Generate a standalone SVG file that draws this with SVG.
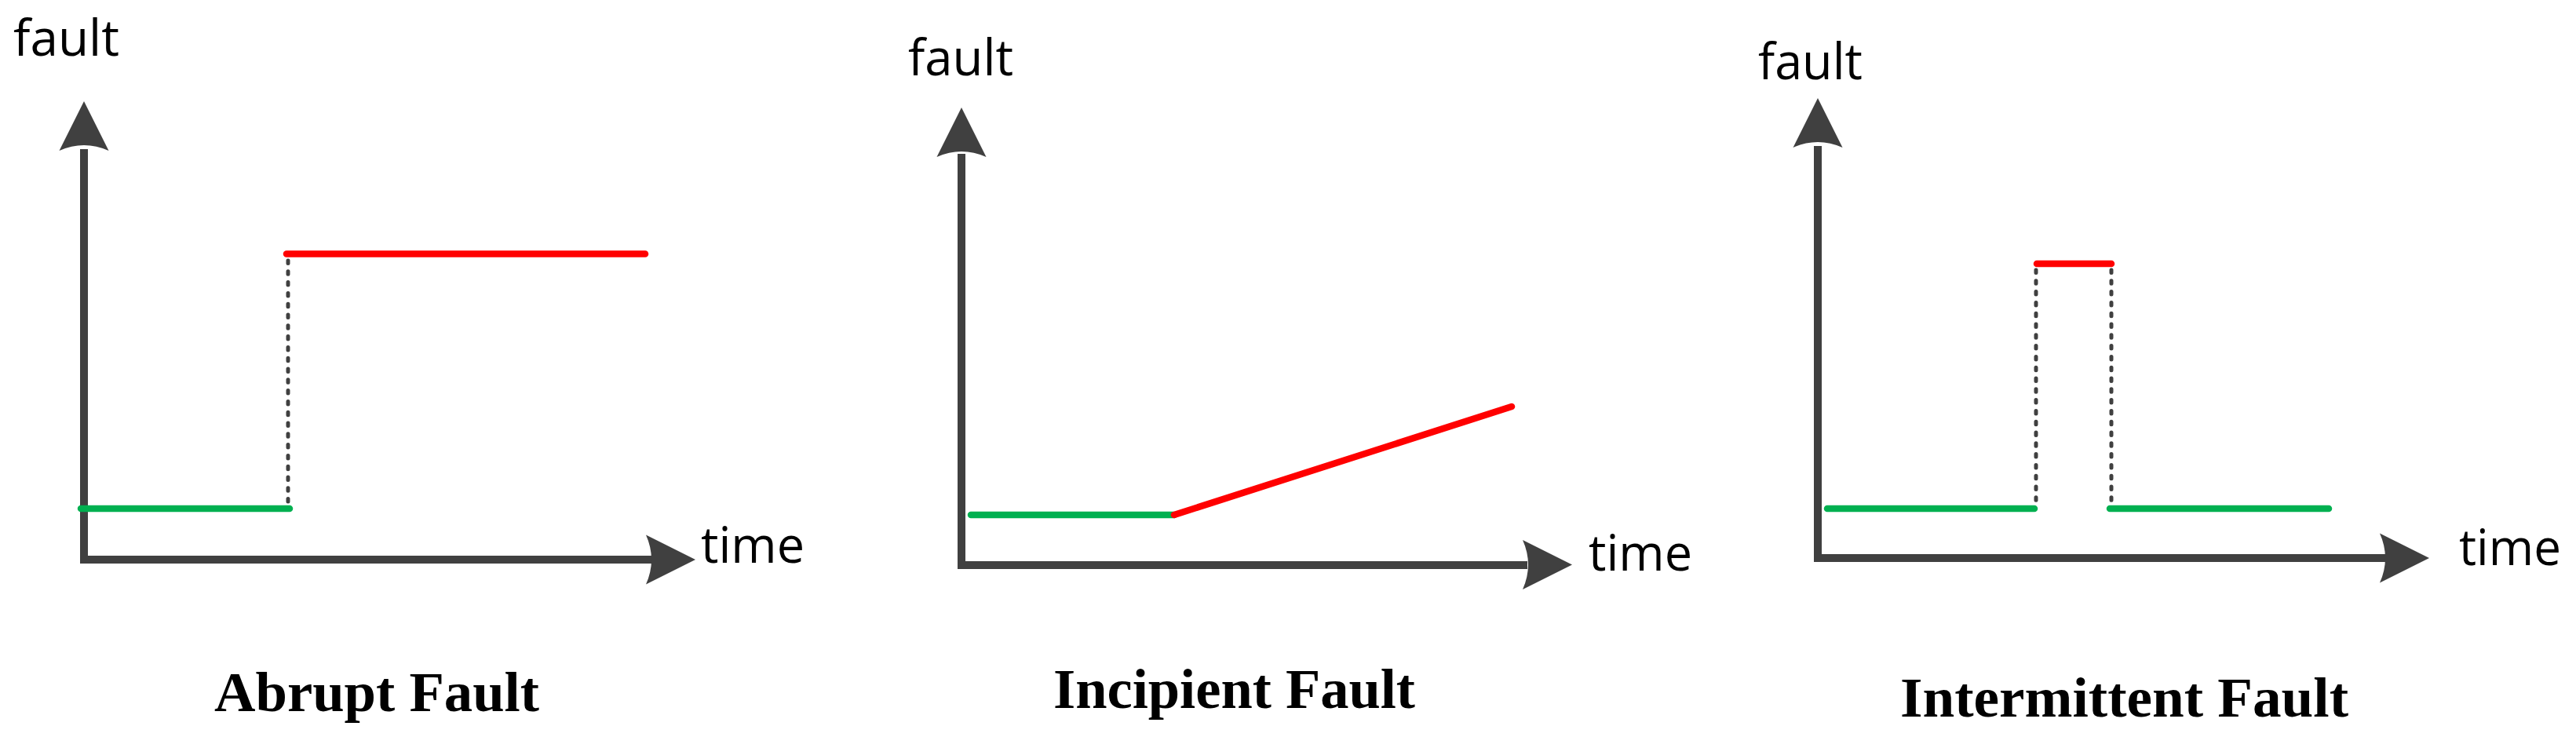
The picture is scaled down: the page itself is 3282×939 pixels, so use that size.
<svg xmlns="http://www.w3.org/2000/svg" width="3282" height="939" viewBox="0 0 3282 939">
<style>
.axis{fill:none;stroke:#404040;stroke-width:10;stroke-linejoin:miter;stroke-linecap:butt}
.head{fill:#404040;stroke:none}
.ok{fill:none;stroke:#00B050;stroke-width:8.5;stroke-linecap:round}
.bad{fill:none;stroke:#FF0000;stroke-width:8.5;stroke-linecap:round}
.dash{fill:none;stroke:#404040;stroke-width:5;stroke-linecap:round;stroke-dasharray:3.5 10.3}
.lbl{font-family:"Open Sans","Liberation Sans",sans-serif;font-size:64px;fill:#000}
.ttl{font-family:"Liberation Serif","Times New Roman",serif;font-weight:bold;font-size:72px;fill:#000}
</style>
<defs>
<path id="ah" d="M0,0 L-63,-31.5 Q-49,0 -63,31.5 Z"/>
</defs>
<rect width="3282" height="939" fill="#fff"/>

<g id="panel-abrupt">
  <text class="lbl" x="17" y="71" textLength="135" lengthAdjust="spacingAndGlyphs">fault</text>
  <text class="lbl" x="893" y="717" textLength="132" lengthAdjust="spacingAndGlyphs">time</text>
  <text class="ttl" x="273" y="906" textLength="414" lengthAdjust="spacingAndGlyphs">Abrupt Fault</text>
</g>
<g id="panel-incipient">
  <text class="lbl" x="1157" y="96" textLength="134" lengthAdjust="spacingAndGlyphs">fault</text>
  <text class="lbl" x="2024" y="727" textLength="132" lengthAdjust="spacingAndGlyphs">time</text>
  <text class="ttl" x="1342" y="902" textLength="461" lengthAdjust="spacingAndGlyphs">Incipient Fault</text>
</g>
<g id="panel-intermittent">
  <text class="lbl" x="2240" y="101" textLength="133" lengthAdjust="spacingAndGlyphs">fault</text>
  <text class="lbl" x="3133" y="720" textLength="130" lengthAdjust="spacingAndGlyphs">time</text>
  <text class="ttl" x="2421" y="913" textLength="571" lengthAdjust="spacingAndGlyphs">Intermittent Fault</text>
</g>

<g id="connectors">
  <!-- panel 1 -->
  <path class="axis" d="M107,190 L107,713 L832,713"/>
  <use href="#ah" class="head" transform="translate(107,129) rotate(-90)"/>
  <use href="#ah" class="head" transform="translate(886,713)"/>
  <line class="dash" x1="367" y1="332" x2="367" y2="644"/>
  <line class="ok" x1="103" y1="648" x2="369" y2="648"/>
  <line class="bad" x1="365" y1="323.5" x2="822" y2="323.5"/>

  <!-- panel 2 -->
  <path class="axis" d="M1225,196 L1225,720 L1946,720"/>
  <use href="#ah" class="head" transform="translate(1225,137) rotate(-90)"/>
  <use href="#ah" class="head" transform="translate(2003,719.5)"/>
  <line class="ok" x1="1237" y1="656" x2="1496" y2="656"/>
  <line class="bad" x1="1496" y1="656" x2="1926" y2="518"/>

  <!-- panel 3 -->
  <path class="axis" d="M2316,186 L2316,711 L3039,711"/>
  <use href="#ah" class="head" transform="translate(2316,125) rotate(-90)"/>
  <use href="#ah" class="head" transform="translate(3095,711)"/>
  <line class="dash" x1="2594" y1="344" x2="2594" y2="642"/>
  <line class="dash" x1="2690" y1="344" x2="2690" y2="642"/>
  <line class="ok" x1="2328" y1="648" x2="2592" y2="648"/>
  <line class="ok" x1="2688" y1="648" x2="2967" y2="648"/>
  <line class="bad" x1="2595" y1="336" x2="2690" y2="336"/>
</g>
</svg>
